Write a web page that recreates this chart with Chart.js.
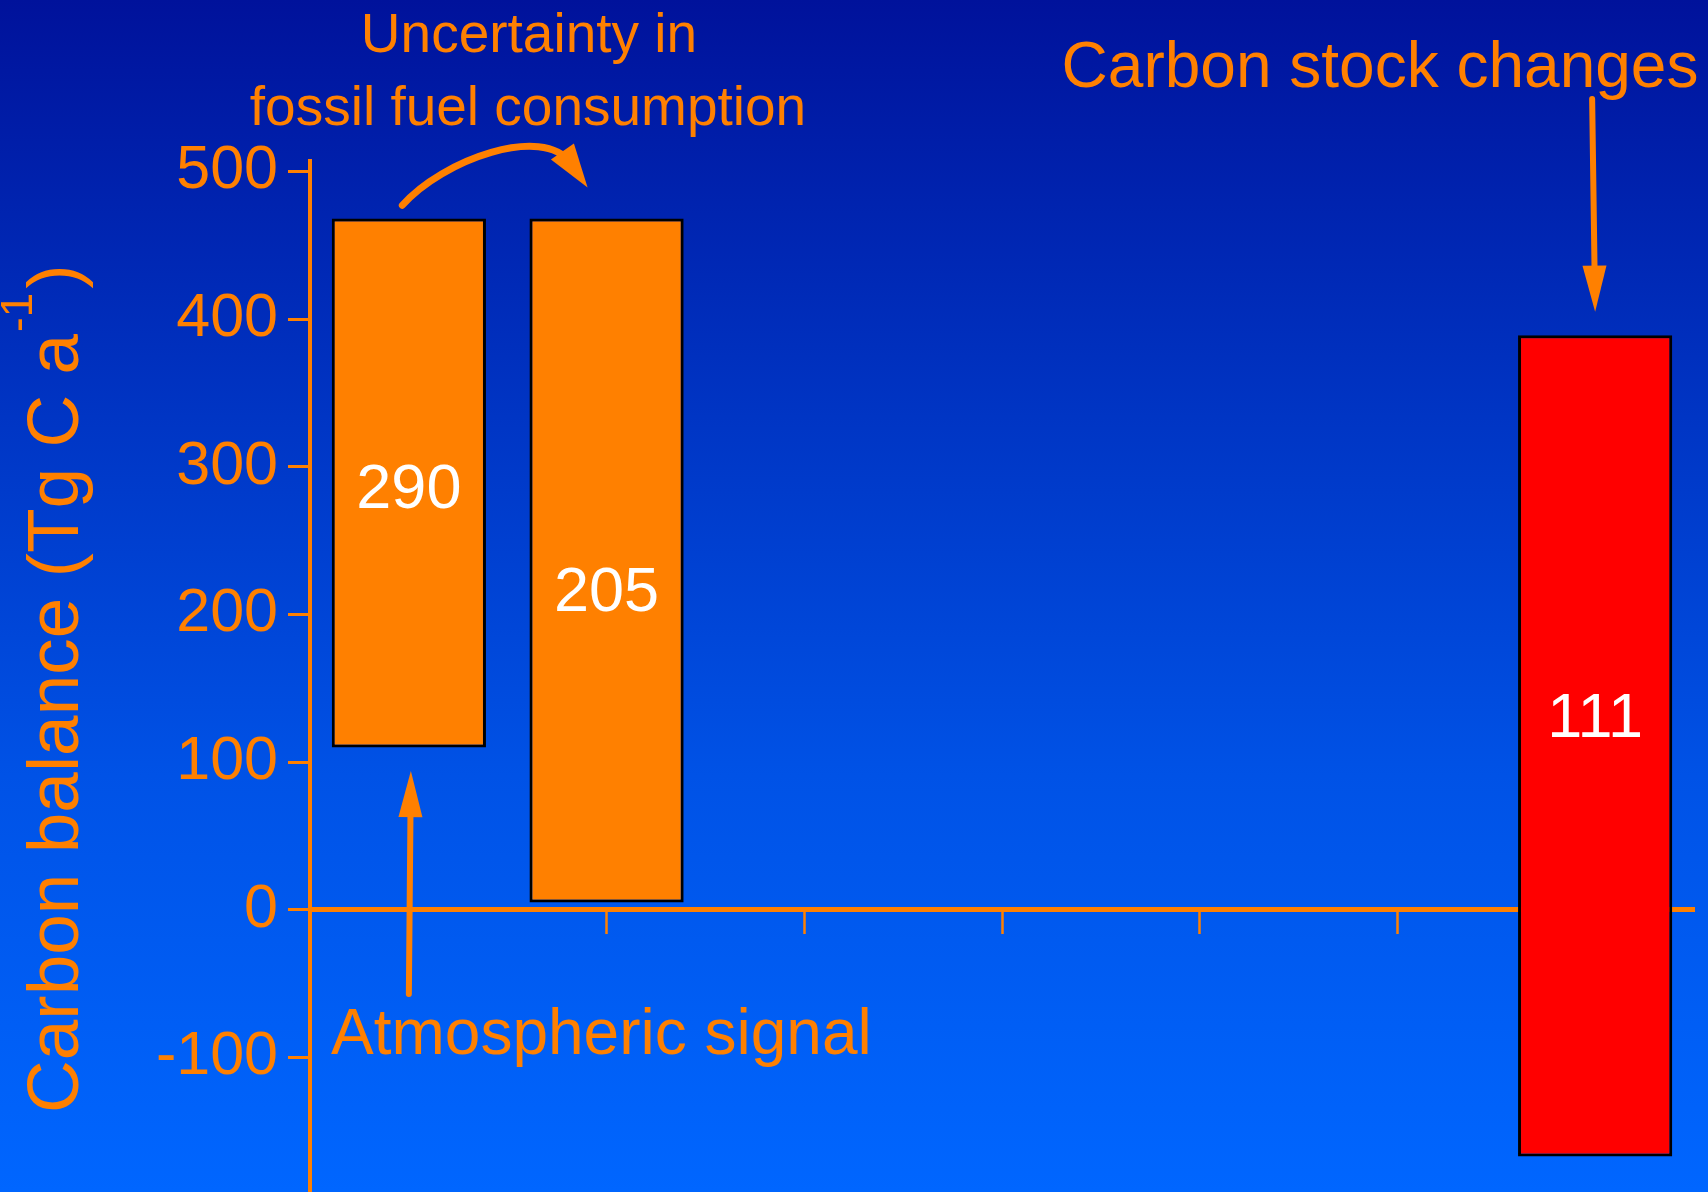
<!DOCTYPE html>
<html>
<head>
<meta charset="utf-8">
<script src="https://cdn.jsdelivr.net/npm/chart.js@4"></script>
<style>
  html, body { margin: 0; padding: 0; }
  #wrap {
    width: 1708px; height: 1192px; position: relative;
    background: linear-gradient(to bottom, #00129b 0%, #0035c4 35%, #0052e6 65%, #0066ff 100%);
  }
</style>
</head>
<body>
<div id="wrap"><canvas id="myChart"></canvas></div>
<script>
const orange = '#FF8000';
const fontFam = '"Liberation Sans", Arial, sans-serif';

// categories along the x axis (no tick labels shown)
const categories = ['Atmospheric signal', 'Fossil fuel', 'c3', 'c4', 'c5', 'c6', 'Carbon stock changes'];
// floating bars: bottom and top of each box (Tg C a-1)
const barBottoms = [110, 5, null, null, null, null, -167];
const barTops    = [468, 468, null, null, null, null, 389];
const barColors  = ['#FF8000', '#FF8000', null, null, null, null, '#FF0000'];
// numbers written inside the bars and the value they sit at
const barLabels   = ['290', '205', '', '', '', '', '111'];
const labelValues = [284, 214, null, null, null, null, 129];
const yTicks = [-100, 0, 100, 200, 300, 400, 500];

// arrows, in data units (category index, value)
const atmArrow   = { cat: 0, from: -57, to: 94 };
const stockArrow = { cat: 6, from: 549, to: 405 };
// curved arrow as a cubic curve: start, two control points, end
const fossilArc  = [[-0.033, 477], [0.17, 508], [0.68, 532], [0.904, 489]];

function arrowHead(ctx, tx, ty, ang, len, w) {
  ctx.beginPath();
  ctx.moveTo(tx, ty);
  ctx.lineTo(tx - len * Math.cos(ang) + w / 2 * Math.sin(ang), ty - len * Math.sin(ang) - w / 2 * Math.cos(ang));
  ctx.lineTo(tx - len * Math.cos(ang) - w / 2 * Math.sin(ang), ty - len * Math.sin(ang) + w / 2 * Math.cos(ang));
  ctx.closePath();
  ctx.fill();
}

function straightArrow(ctx, x1, y1, x2, y2) {
  const ang = Math.atan2(y2 - y1, x2 - x1);
  const len = 46;
  ctx.beginPath();
  ctx.moveTo(x1, y1);
  ctx.lineTo(x2 - (len - 4) * Math.cos(ang), y2 - (len - 4) * Math.sin(ang));
  ctx.stroke();
  arrowHead(ctx, x2, y2, ang, len, 24);
}

const annotate = {
  id: 'annotate',
  afterDraw(chart) {
    const { ctx, scales: { x, y } } = chart;
    ctx.save();

    // numbers inside the bars
    ctx.fillStyle = '#FFFFFF';
    ctx.font = '63px ' + fontFam;
    ctx.textAlign = 'center';
    ctx.textBaseline = 'middle';
    barLabels.forEach((t, i) => {
      if (t) ctx.fillText(t, x.getPixelForValue(i), y.getPixelForValue(labelValues[i]));
    });

    // arrows
    ctx.strokeStyle = orange;
    ctx.fillStyle = orange;
    ctx.lineCap = 'round';
    ctx.lineWidth = 6;
    straightArrow(ctx, x.getPixelForValue(atmArrow.cat), y.getPixelForValue(atmArrow.from),
                       x.getPixelForValue(atmArrow.cat) + 2, y.getPixelForValue(atmArrow.to));
    straightArrow(ctx, x.getPixelForValue(stockArrow.cat) - 3, y.getPixelForValue(stockArrow.from),
                       x.getPixelForValue(stockArrow.cat), y.getPixelForValue(stockArrow.to));

    const p = fossilArc.map(([c, v]) => [x.getPixelForValue(c), y.getPixelForValue(v)]);
    const ang = Math.atan2(p[3][1] - p[2][1], p[3][0] - p[2][0]);
    const endX = p[3][0] - 30 * Math.cos(ang), endY = p[3][1] - 30 * Math.sin(ang);
    ctx.lineWidth = 7;
    ctx.beginPath();
    ctx.moveTo(p[0][0], p[0][1]);
    ctx.bezierCurveTo(p[1][0], p[1][1], p[2][0], p[2][1], endX, endY);
    ctx.stroke();
    arrowHead(ctx, p[3][0], p[3][1], ang, 44, 28);

    // text notes
    ctx.fillStyle = orange;
    ctx.textBaseline = 'alphabetic';
    ctx.textAlign = 'center';
    ctx.font = '55px ' + fontFam;
    ctx.fillText('Uncertainty in', 529, 52);
    ctx.fillText('fossil fuel consumption', 528, 125);
    ctx.font = '64px ' + fontFam;
    ctx.fillText('Carbon stock changes', 1380, 87);
    ctx.textAlign = 'left';
    ctx.fillText('Atmospheric signal', 331, 1054);

    // y axis title with superscript
    ctx.translate(78, 1113);
    ctx.rotate(-Math.PI / 2);
    ctx.font = '73px ' + fontFam;
    const main = 'Carbon balance (Tg C a';
    ctx.fillText(main, 0, 0);
    let w = ctx.measureText(main).width;
    ctx.font = '44px ' + fontFam;
    ctx.fillText('-1', w + 2, -46);
    w += ctx.measureText('-1').width + 6;
    ctx.font = '73px ' + fontFam;
    ctx.fillText(')', w, 0);

    ctx.restore();
  }
};

const dataSource = {
  labels: categories,
  datasets: [{
    data: categories.map((c, i) => barBottoms[i] === null ? null : [barBottoms[i], barTops[i]]),
    backgroundColor: barColors,
    borderColor: '#000000',
    borderWidth: 3,
    borderSkipped: false,
    barPercentage: 0.78,
    categoryPercentage: 1
  }]
};

const config = {
  type: 'bar',
  data: dataSource,
  options: {
    responsive: true,
    maintainAspectRatio: false,
    animation: false,
    layout: { padding: { top: 161, right: 14, bottom: 0, left: 0 } },
    plugins: { legend: { display: false }, tooltip: { enabled: false } },
    scales: {
      x: {
        position: { y: 0 },
        z: 1,
        offset: true,
        afterFit: s => { s.height = 0; },
        ticks: { display: false },
        grid: { drawOnChartArea: false, drawTicks: true, tickLength: 22, tickWidth: 2.5, tickColor: orange, offset: false },
        border: { color: orange, width: 5 }
      },
      y: {
        min: -191,
        max: 507,
        afterFit: s => { s.width = 310; s.paddingTop = 0; s.paddingBottom = 0; },
        afterBuildTicks: s => { s.ticks = yTicks.map(v => ({ value: v })); },
        ticks: { color: orange, font: { family: fontFam, size: 61 }, padding: 10 },
        grid: { drawOnChartArea: false, drawTicks: true, tickLength: 22, tickWidth: 3, tickColor: orange },
        border: { color: orange, width: 4 }
      }
    }
  },
  plugins: [annotate]
};

const myChart = new Chart(document.getElementById('myChart'), config);
</script>
</body>
</html>
